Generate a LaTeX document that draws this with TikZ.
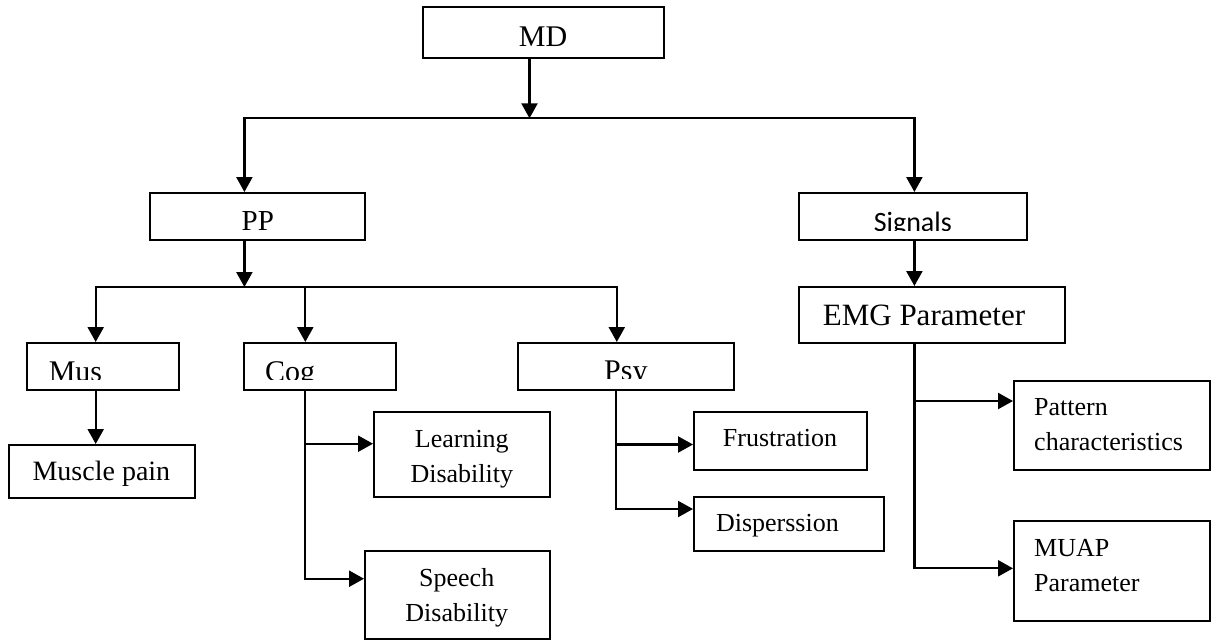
\documentclass[tikz,border=0pt]{standalone}
\usepackage{fontspec}
\setmainfont{Liberation Serif}
\newfontfamily\carlito{Carlito}
\usetikzlibrary{arrows.meta}
\begin{document}
\begin{tikzpicture}[x=1pt,y=-1pt,
  box/.style={draw, line width=2pt, inner sep=0pt},
  lbl/.style={inner sep=0pt, anchor=base},
  big/.style={font=\fontsize{30}{36}\selectfont},
  mid/.style={font=\fontsize{28}{35}\selectfont},
  small/.style={font=\fontsize{26}{35}\selectfont},
  conn/.style={line width=2.3pt},
  arr/.style={conn, -{Triangle[length=15pt,width=16pt]}}]
\useasboundingbox (0,0) rectangle (1217,641);
\fill[white] (0,0) rectangle (1217,641);

% boxes
\node[box, minimum width=241pt, minimum height=51pt] (md) at (543.5,32.5) {};
\node[box, minimum width=215pt, minimum height=47pt] (pp) at (257.5,216.5) {};
\node[box, minimum width=228pt, minimum height=47pt] (sig) at (913,216.5) {};
\node[box, minimum width=266pt, minimum height=56pt] (emg) at (932,315) {};
\node[box, minimum width=152pt, minimum height=47pt] (mus) at (103,366.5) {};
\node[box, minimum width=152pt, minimum height=47pt] (cog) at (320,366.5) {};
\node[box, minimum width=216pt, minimum height=47pt] (psy) at (626,366.5) {};
\node[box, minimum width=186pt, minimum height=53pt] (mp) at (102,471.5) {};
\node[box, minimum width=176pt, minimum height=85pt] (ld) at (462,454.5) {};
\node[box, minimum width=185pt, minimum height=88pt] (sd) at (457.5,595) {};
\node[box, minimum width=173pt, minimum height=58pt] (fr) at (780.5,441) {};
\node[box, minimum width=190pt, minimum height=54pt] (dp) at (789,524) {};
\node[box, minimum width=196pt, minimum height=89pt] (pc) at (1112,425.5) {};
\node[box, minimum width=196pt, minimum height=100pt] (mu) at (1112,571) {};

% labels
\node[lbl, big] (mdT) at (543,46.7) {MD};
\node[lbl, font=\fontsize{29}{35}\selectfont] (ppT) at (257.8,230) {PP};
\node[lbl, font=\fontsize{31}{36}\selectfont] (emgT) at (924,325) {EMG Parameter};
\begin{scope}
  \clip (799,193) rectangle (1027,230.5);
  \node[lbl, font=\carlito\fontsize{28}{34}\selectfont] (sigT) at (912.8,231) {Signals};
\end{scope}
\begin{scope}
  \clip (27,343) rectangle (179,379.5);
  \node[lbl, big, anchor=base west] (musT) at (48.6,381) {Mus};
\end{scope}
\begin{scope}
  \clip (244,343) rectangle (396,379.5);
  \node[lbl, big, anchor=base west] (cogT) at (265,381) {Cog};
\end{scope}
\begin{scope}
  \clip (518,343) rectangle (734,378.5);
  \node[lbl, big, anchor=base west] (psyT) at (604,380) {Psy};
\end{scope}
\node[lbl, mid] (mpT) at (101.4,480) {Muscle pain};
\node[lbl, small, align=center] (ldT) at (461.8,482.7) {Learning\\Disability};
\node[lbl, small, align=center] (sdT) at (456.7,621.7) {Speech\\Disability};
\node[lbl, small] (frT) at (780,446.7) {Frustration};
\node[lbl, small] (dpT) at (777.4,531.7) {Disperssion};
\node[lbl, small, align=left, anchor=base west] (pcT) at (1034,450.7) {Pattern\\characteristics};
\node[lbl, small, align=left, anchor=base west] (muT) at (1034,591.7) {MUAP\\Parameter};

% connectors
\coordinate (j1) at (529.5,118.3);
\coordinate (hL) at (244.4,118.3);
\coordinate (hR) at (914.4,118.3);
\draw[arr] (md.south -| j1) -- (j1);
\draw[arr] (j1) -- (hL) -- (hL |- pp.north);
\draw[arr] (j1) -- (hR) -- (hR |- sig.north);

\coordinate (j2) at (244.4,287);
\coordinate (m1) at (95.7,287);
\coordinate (c1) at (305.3,287);
\coordinate (p1) at (616.8,287);
\draw[arr] (pp.south -| j2) -- (j2);
\draw[arr] (j2) -- (m1) -- (m1 |- mus.north);
\draw[arr] (j2) -- (p1) -- (p1 |- psy.north);
\draw[arr] (c1) -- (c1 |- cog.north);

\draw[arr] (sig.south -| hR) -- (emg.north -| hR);
\draw[arr] (mus.south -| m1) -- (mp.north -| m1);

\coordinate (cb1) at (305.3,443.7);
\coordinate (cb2) at (305.3,578.7);
\draw[arr] (cog.south -| cb2) -- (cb2) -- (cb2 -| sd.west);
\draw[arr] (cb1) -- (cb1 -| ld.west);

\coordinate (pb1) at (615.8,444.5);
\coordinate (pb2) at (615.8,509);
\draw[arr] (psy.south -| pb2) -- (pb2) -- (pb2 -| dp.west);
\draw[arr] (pb1) -- (pb1 -| fr.west);

\coordinate (eb1) at (914.4,401);
\coordinate (eb2) at (914.4,568.3);
\draw[arr] (emg.south -| eb2) -- (eb2) -- (eb2 -| mu.west);
\draw[arr] (eb1) -- (eb1 -| pc.west);
\end{tikzpicture}
\end{document}
